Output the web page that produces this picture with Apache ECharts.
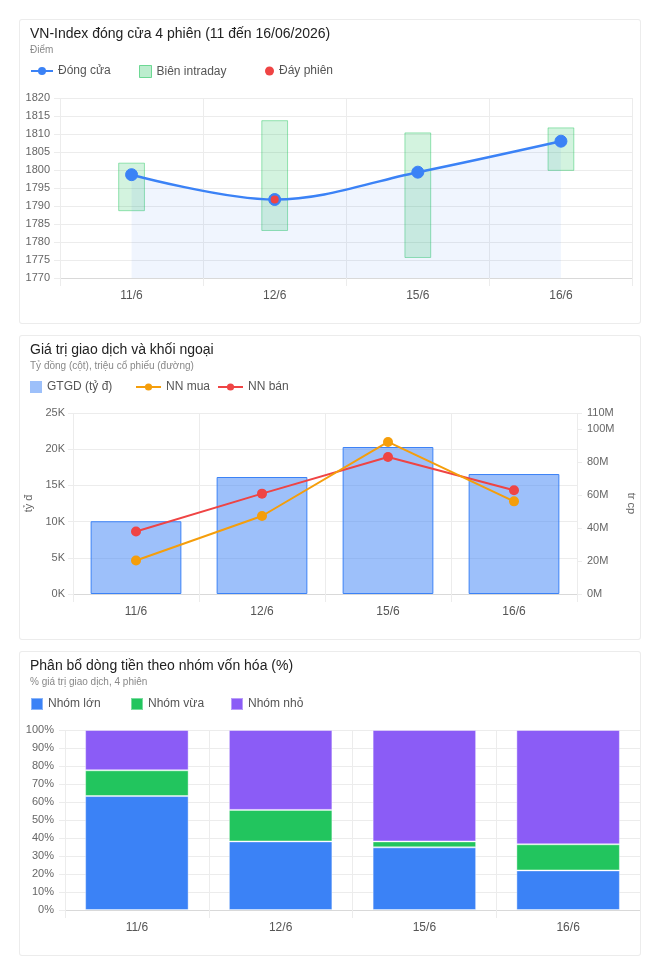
<!DOCTYPE html>
<html>
<head>
<meta charset="utf-8">
<script src="https://cdn.jsdelivr.net/npm/echarts@6/dist/echarts.min.js"></script>
<style>
  html, body { margin: 0; padding: 0; background: #fff; width: 660px; height: 976px; overflow: hidden; }
  .card { position: absolute; left: 20px; width: 620px; height: 303px; box-shadow: 0 0 0 1px #ececec; border-radius: 2px; background: #fff; }
</style>
</head>
<body>
<div id="c1" class="card" style="top:20px"></div>
<div id="c2" class="card" style="top:336px"></div>
<div id="c3" class="card" style="top:652px"></div>
<script>
// ---- Data ----
const categories = ['11/6', '12/6', '15/6', '16/6'];

// Chart 1: VN-Index
const closeValues   = [1798.7, 1791.8, 1799.4, 1808.0];
const intradayLow   = [1788.7, 1783.2, 1775.7, 1799.9];
const intradayHigh  = [1801.9, 1813.7, 1810.3, 1811.7];
const sessionLowMark = [null, 1791.8, null, null];

// Chart 2: trading value (tỷ đồng) and foreign flows (triệu cp)
const tradeValue  = [10050, 16160, 20300, 16570];
const foreignBuy  = [20.4, 47.4, 92.4, 56.3];
const foreignSell = [38.0, 61.0, 83.3, 63.0];

// Chart 3: money flow by cap group (%)
const largeCap = [63.3, 38.1, 34.8, 22.0];
const midCap   = [14.3, 17.5, 3.3, 14.5];
const smallCap = [22.4, 44.4, 61.9, 63.5];

// ---- Shared styles ----
const FONT = 'Liberation Sans, Arial, Helvetica, sans-serif';
const gridLine = '#ececec';
const labelColor = '#666';

function titles(main, sub) {
  return [
    { text: main, left: 10, top: 7, padding: 0, textStyle: { fontSize: 14, fontWeight: 'normal', color: '#222', fontFamily: FONT } },
    { text: sub, left: 10, top: 25, padding: 0, textStyle: { fontSize: 10, fontWeight: 'normal', color: '#888', fontFamily: FONT } }
  ];
}
function legendItem(name, left, opts) {
  return Object.assign({
    data: [name], left: left, top: 45, padding: 0,
    itemWidth: 12, itemHeight: 12, selectedMode: false,
    textStyle: { fontSize: 12, color: '#555', fontFamily: FONT }
  }, opts || {});
}
function catAxis() {
  return {
    type: 'category', data: categories, boundaryGap: true,
    axisLine: { show: true, lineStyle: { color: '#d9d9d9' } },
    axisTick: { show: true, length: 8, lineStyle: { color: gridLine } },
    axisLabel: { color: '#555', fontSize: 12, margin: 12, fontFamily: FONT },
    splitLine: { show: true, lineStyle: { color: gridLine } }
  };
}

// ---- Chart 1 ----
const ch1 = echarts.init(document.getElementById('c1'), null, { renderer: 'canvas' });
ch1.setOption({
  animation: false,
  textStyle: { fontFamily: FONT },
  title: titles('VN-Index đóng cửa 4 phiên (11 đến 16/06/2026)', 'Điểm'),
  legend: [
    legendItem('Đóng cửa', 10, { itemWidth: 22, itemHeight: 10 }),
    legendItem('Biên intraday', 119, { data: [{ name: 'Biên intraday', icon: 'rect', itemStyle: { color: 'rgba(34,197,94,0.3)', borderColor: 'rgba(34,197,94,0.6)', borderWidth: 1 } }] }),
    legendItem('Đáy phiên', 245, { itemWidth: 9, itemHeight: 9, data: [{ name: 'Đáy phiên', icon: 'circle', itemStyle: { color: '#ef4444', opacity: 1 } }] })
  ],
  grid: { left: 40, top: 78, width: 572.5, height: 180, containLabel: false, outerBoundsMode: 'none' },
  xAxis: catAxis(),
  yAxis: {
    type: 'value', min: 1770, max: 1820, interval: 5,
    axisLine: { show: false },
    axisTick: { show: true, length: 6, lineStyle: { color: gridLine } },
    axisLabel: { color: labelColor, fontSize: 11, margin: 10, formatter: v => String(v) },
    splitLine: { lineStyle: { color: gridLine } }
  },
  series: [
    {
      name: 'Biên intraday', type: 'custom', z: 1,
      itemStyle: { color: 'rgba(34,197,94,0.3)', borderColor: 'rgba(34,197,94,0.6)' },
      data: categories.map((c, i) => [i, intradayLow[i], intradayHigh[i]]),
      encode: { x: 0, y: [1, 2] },
      renderItem: function (params, api) {
        const x = api.value(0);
        const p1 = api.coord([x, api.value(2)]);
        const p2 = api.coord([x, api.value(1)]);
        const w = api.size([1, 0])[0] * 0.18;
        return {
          type: 'rect',
          shape: { x: p1[0] - w / 2, y: p1[1], width: w, height: p2[1] - p1[1] },
          style: { fill: 'rgba(34,197,94,0.2)', stroke: 'rgba(34,197,94,0.45)', lineWidth: 1 }
        };
      }
    },
    {
      name: 'Đóng cửa', type: 'line', z: 3, data: closeValues, smooth: 0.35,
      symbol: 'circle', symbolSize: 12, showSymbol: true,
      lineStyle: { color: '#3b82f6', width: 2.5 },
      itemStyle: { color: '#3b82f6', borderColor: '#3b82f6' },
      areaStyle: { color: 'rgba(59,130,246,0.11)', origin: 'start' }
    },
    {
      name: 'Đáy phiên', type: 'scatter', z: 5, data: sessionLowMark,
      symbol: 'circle', symbolSize: 8,
      itemStyle: { color: '#ef4444', opacity: 1 }
    }
  ]
});

// ---- Chart 2 ----
const ch2 = echarts.init(document.getElementById('c2'), null, { renderer: 'canvas' });
ch2.setOption({
  animation: false,
  textStyle: { fontFamily: FONT },
  title: titles('Giá trị giao dịch và khối ngoại', 'Tỷ đồng (cột), triệu cổ phiếu (đường)'),
  legend: [
    legendItem('GTGD (tỷ đ)', 10, { data: [{ name: 'GTGD (tỷ đ)', icon: 'rect', itemStyle: { color: 'rgba(59,130,246,0.5)', borderWidth: 0 } }] }),
    legendItem('NN mua', 115, { itemWidth: 25, itemHeight: 9 }),
    legendItem('NN bán', 197, { itemWidth: 25, itemHeight: 9 })
  ],
  grid: { left: 53, top: 77, width: 504, height: 181, containLabel: false, outerBoundsMode: 'none' },
  xAxis: catAxis(),
  yAxis: [
    {
      type: 'value', min: 0, max: 25000, interval: 5000,
      name: 'tỷ đ', nameLocation: 'middle', nameGap: 37,
      nameTextStyle: { color: labelColor, fontSize: 11 },
      axisLine: { show: false },
      axisTick: { show: true, length: 5, lineStyle: { color: gridLine } },
      axisLabel: { color: labelColor, fontSize: 11, margin: 8, formatter: v => (v / 1000) + 'K' },
      splitLine: { lineStyle: { color: gridLine } }
    },
    {
      type: 'value', min: 0, max: 110, interval: 20, position: 'right',
      name: 'tr cp', nameLocation: 'middle', nameGap: 45, nameRotate: -90,
      nameTextStyle: { color: labelColor, fontSize: 11 },
      axisLine: { show: false },
      axisTick: { show: true, length: 5, lineStyle: { color: gridLine } },
      axisLabel: { color: labelColor, fontSize: 11, margin: 10, formatter: v => v + 'M', hideOverlap: false },
      splitLine: { show: false }
    }
  ],
  series: [
    {
      name: 'GTGD (tỷ đ)', type: 'bar', yAxisIndex: 0, data: tradeValue, barWidth: '72%',
      itemStyle: { color: 'rgba(59,130,246,0.5)', borderColor: '#3b82f6', borderWidth: 1 }
    },
    {
      name: 'NN bán', type: 'line', yAxisIndex: 1, data: foreignSell, z: 3,
      symbol: 'circle', symbolSize: 10,
      lineStyle: { color: '#ef4444', width: 2 }, itemStyle: { color: '#ef4444' }
    },
    {
      name: 'NN mua', type: 'line', yAxisIndex: 1, data: foreignBuy, z: 4,
      symbol: 'circle', symbolSize: 10,
      lineStyle: { color: '#f59e0b', width: 2 }, itemStyle: { color: '#f59e0b' }
    }
  ]
});

// ---- Chart 3 ----
const ch3 = echarts.init(document.getElementById('c3'), null, { renderer: 'canvas' });
const stackStyle = (c) => ({ color: c, borderColor: 'rgba(255,255,255,0.4)', borderWidth: 1 });
ch3.setOption({
  animation: false,
  textStyle: { fontFamily: FONT },
  title: titles('Phân bổ dòng tiền theo nhóm vốn hóa (%)', '% giá trị giao dịch, 4 phiên'),
  legend: [
    legendItem('Nhóm lớn', 10, { data: [{ name: 'Nhóm lớn', icon: 'rect' }] }),
    legendItem('Nhóm vừa', 110, { data: [{ name: 'Nhóm vừa', icon: 'rect' }] }),
    legendItem('Nhóm nhỏ', 210, { data: [{ name: 'Nhóm nhỏ', icon: 'rect' }] })
  ],
  grid: { left: 45, top: 78, width: 575, height: 180, containLabel: false, outerBoundsMode: 'none' },
  xAxis: catAxis(),
  yAxis: {
    type: 'value', min: 0, max: 100, interval: 10,
    axisLine: { show: false },
    axisTick: { show: true, length: 6, lineStyle: { color: gridLine } },
    axisLabel: { color: labelColor, fontSize: 11, margin: 11, formatter: v => v + '%' },
    splitLine: { lineStyle: { color: gridLine } }
  },
  series: [
    { name: 'Nhóm lớn', type: 'bar', stack: 'cap', data: largeCap, barWidth: '72%', itemStyle: stackStyle('#3b82f6') },
    { name: 'Nhóm vừa', type: 'bar', stack: 'cap', data: midCap, barWidth: '72%', itemStyle: stackStyle('#22c55e') },
    { name: 'Nhóm nhỏ', type: 'bar', stack: 'cap', data: smallCap, barWidth: '72%', itemStyle: stackStyle('#8b5cf6') }
  ]
});
</script>
</body>
</html>
